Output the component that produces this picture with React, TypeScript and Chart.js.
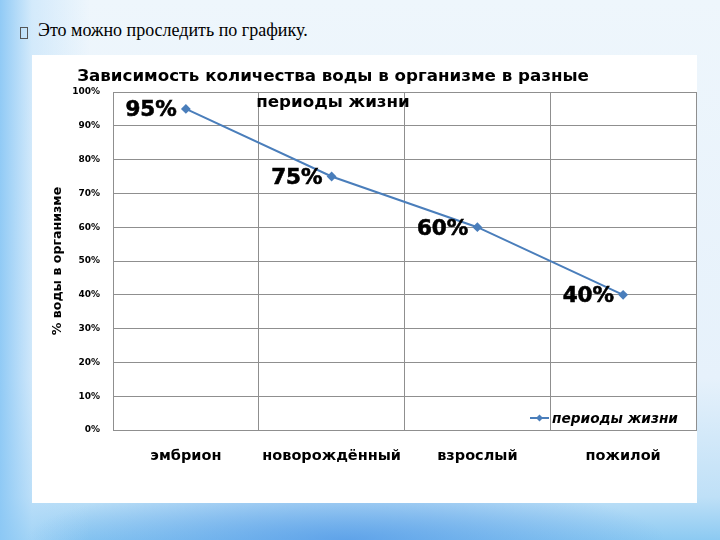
import React, { useEffect, useRef } from "react";
import { Chart, registerables } from "chart.js";

Chart.register(...registerables);

const slideText = "Это можно проследить по графику.";
const titleLines = ["Зависимость количества воды в организме в разные", "периоды жизни"];
const yAxisTitle = "% воды в организме";
const seriesName = "периоды жизни";
const categories = ["эмбрион", "новорождённый", "взрослый", "пожилой"];
const waterPercent = [95, 75, 60, 40];
const yMin = 0;
const yMax = 100;
const yStep = 10;

const FONT = "'DejaVu Sans', Verdana, sans-serif";
const LINE_COLOR = "#4a7ebb";
const GRID_COLOR = "#8f8f8f";

const titlePlugin = {
  id: "slideTitle",
  afterDraw(chart: any) {
    const ctx = chart.ctx;
    ctx.save();
    ctx.fillStyle = "#000";
    ctx.font = `bold 16.7px ${FONT}`;
    ctx.textAlign = "center";
    ctx.textBaseline = "middle";
    ctx.fillText(titleLines[0], 301, 22);
    ctx.fillText(titleLines[1], 301, 48);
    ctx.restore();
  },
};

const dataLabelPlugin = {
  id: "pointLabels",
  afterDatasetsDraw(chart: any) {
    const ctx = chart.ctx;
    const meta = chart.getDatasetMeta(0);
    const data = chart.data.datasets[0].data;
    ctx.save();
    ctx.fillStyle = "#000";
    ctx.strokeStyle = "#000";
    ctx.lineWidth = 0.6;
    ctx.font = `bold 21.5px ${FONT}`;
    ctx.textAlign = "right";
    ctx.textBaseline = "middle";
    meta.data.forEach((pt: any, i: number) => {
      const t = `${data[i]}%`;
      ctx.fillText(t, pt.x - 9, pt.y + 2);
      ctx.strokeText(t, pt.x - 9, pt.y + 2);
    });
    ctx.restore();
  },
};

const legendPlugin = {
  id: "innerLegend",
  afterDraw(chart: any) {
    const ctx = chart.ctx;
    const { right, bottom } = chart.chartArea;
    const y = bottom - 12;
    const x0 = right - 166;
    const x1 = right - 147;
    ctx.save();
    ctx.strokeStyle = LINE_COLOR;
    ctx.lineWidth = 2;
    ctx.beginPath();
    ctx.moveTo(x0, y);
    ctx.lineTo(x1, y);
    ctx.stroke();
    const cx = (x0 + x1) / 2;
    ctx.fillStyle = LINE_COLOR;
    ctx.beginPath();
    ctx.moveTo(cx, y - 3.5);
    ctx.lineTo(cx + 3.5, y);
    ctx.lineTo(cx, y + 3.5);
    ctx.lineTo(cx - 3.5, y);
    ctx.closePath();
    ctx.fill();
    ctx.fillStyle = "#000";
    ctx.font = `italic bold 13.7px ${FONT}`;
    ctx.textAlign = "left";
    ctx.textBaseline = "middle";
    ctx.fillText(seriesName, right - 144, y + 1);
    ctx.restore();
  },
};

function WaterChart() {
  const ref = useRef<HTMLCanvasElement | null>(null);
  useEffect(() => {
    if (!ref.current) return;
    const chart = new Chart(ref.current, {
      type: "line",
      data: {
        labels: categories,
        datasets: [
          {
            label: seriesName,
            data: waterPercent,
            borderColor: LINE_COLOR,
            backgroundColor: LINE_COLOR,
            borderWidth: 2,
            pointStyle: "rectRot",
            pointRadius: 3.5,
            pointBackgroundColor: LINE_COLOR,
            pointBorderColor: LINE_COLOR,
            tension: 0,
          },
        ],
      },
      options: {
        animation: false,
        responsive: true,
        maintainAspectRatio: false,
        layout: { autoPadding: false, padding: { top: 37, right: 1, bottom: 0, left: 0 } },
        plugins: {
          legend: { display: false },
          tooltip: { enabled: false },
          title: { display: false },
        },
        scales: {
          x: {
            offset: true,
            grid: { offset: true, color: GRID_COLOR, lineWidth: 1, drawTicks: false },
            border: { color: GRID_COLOR },
            ticks: {
              color: "#000",
              padding: 18,
              maxRotation: 0,
              font: { family: FONT, size: 14.5, weight: "bold" },
            },
            afterFit(scale: any) {
              scale.height = 73;
              scale.paddingLeft = 0;
              scale.paddingRight = 0;
            },
          },
          y: {
            min: yMin,
            max: yMax,
            grid: { color: GRID_COLOR, lineWidth: 1, drawTicks: false },
            border: { color: GRID_COLOR },
            ticks: {
              stepSize: yStep,
              color: "#000",
              padding: 13,
              font: { family: FONT, size: 9, weight: "bold" },
              callback: (v: any) => `${v}%`,
            },
            title: {
              display: true,
              text: yAxisTitle,
              color: "#000",
              padding: { top: 18, bottom: 0 },
              font: { family: FONT, size: 12.6, weight: "bold" },
            },
            afterFit(scale: any) {
              scale.width = 81;
              scale.paddingTop = 0;
              scale.paddingBottom = 0;
            },
          },
        },
      },
      plugins: [titlePlugin, dataLabelPlugin, legendPlugin],
    });
    return () => chart.destroy();
  }, []);
  return <canvas ref={ref} />;
}

export default function App() {
  return (
    <div
      style={{
        position: "fixed",
        left: 0,
        top: 0,
        width: 720,
        height: 540,
        overflow: "hidden",
        background:
          "radial-gradient(ellipse 320px 60px at 48% 100%, rgba(80,150,230,0.75), rgba(80,150,230,0) 100%)," +
          "linear-gradient(to right, rgba(140,200,245,0.95) 0px, rgba(185,222,250,0.5) 32px, rgba(255,255,255,0) 90px)," +
          "linear-gradient(to bottom, #eef6fc 0%, #e6f1fb 70%, #bfe0f7 92%, #8ccaf2 100%)",
      }}
    >
      <div
        style={{
          position: "absolute",
          left: 20,
          top: 27,
          width: 6,
          height: 10,
          border: "1px solid #555",
        }}
      />
      <div
        style={{
          position: "absolute",
          left: 38,
          top: 20,
          fontFamily: "'Liberation Serif', 'Times New Roman', serif",
          fontSize: 18,
          color: "#000",
          whiteSpace: "nowrap",
        }}
      >
        {slideText}
      </div>
      <div
        style={{
          position: "absolute",
          left: 32,
          top: 55,
          width: 665,
          height: 448,
          background: "#ffffff",
        }}
      >
        <WaterChart />
      </div>
    </div>
  );
}
